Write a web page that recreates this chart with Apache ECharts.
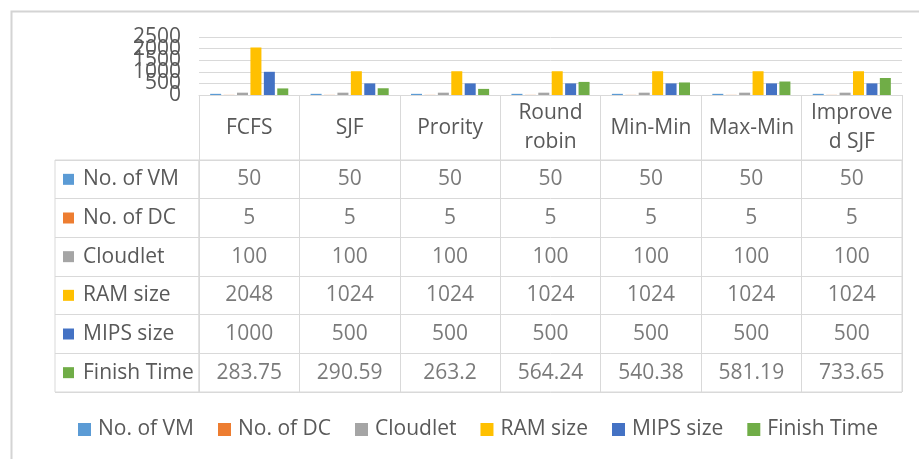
<!DOCTYPE html>
<html>
<head>
<meta charset="utf-8">
<script src="https://cdn.jsdelivr.net/npm/echarts@6/dist/echarts.min.js"></script>
<style>
  html, body { margin: 0; padding: 0; background: #fff; }
  #main { width: 919px; height: 459px; }
</style>
</head>
<body>
<div id="main"></div>
<script>
// 调度算法比较（柱状图 + 数据表）
var categories = ['FCFS', 'SJF', 'Prority', 'Round robin', 'Min-Min', 'Max-Min', 'Improved SJF'];
var headerText = { 'Round robin': 'Round\nrobin', 'Improved SJF': 'Improve\nd SJF' };

var seriesNames = ['No. of VM', 'No. of DC', 'Cloudlet', 'RAM size', 'MIPS size', 'Finish Time'];
var vmCount    = [50, 50, 50, 50, 50, 50, 50];
var dcCount    = [5, 5, 5, 5, 5, 5, 5];
var cloudlet   = [100, 100, 100, 100, 100, 100, 100];
var ramSize    = [2048, 1024, 1024, 1024, 1024, 1024, 1024];
var mipsSize   = [1000, 500, 500, 500, 500, 500, 500];
var finishTime = [283.75, 290.59, 263.2, 564.24, 540.38, 581.19, 733.65];
var yTickLabels = ['0', '500', '1000', '1500', '2000', '2500'];
var yTicks = { min: 0, max: 2500, interval: 500 };

var colors = ['#5B9BD5', '#ED7D31', '#A5A5A5', '#FFC000', '#4472C4', '#70AD47'];
var allValues = [vmCount, dcCount, cloudlet, ramSize, mipsSize, finishTime];

var FONT = 'Open Sans';
var FS = 21;
var TXT = '#595959';
var LINE = '#d9d9d9';

var myChart = echarts.init(document.getElementById('main'));

// 表格单元格数据
var cells = [];
allValues.forEach(function (arr, r) {
  arr.forEach(function (v, c) { cells.push([c, r, v]); });
});

// 行标题的色块
var rich = { t: { color: TXT, fontSize: FS, fontFamily: FONT, padding: [0, 0, 0, 9] } };
colors.forEach(function (col, i) {
  rich['s' + i] = { width: 11, height: 11, backgroundColor: col };
});

var series = seriesNames.map(function (name, i) {
  return {
    name: name,
    type: 'bar',
    xAxisIndex: 0,
    yAxisIndex: 0,
    barWidth: 11,
    barGap: '22%',
    itemStyle: { color: colors[i] },
    data: allValues[i]
  };
});
series.push({
  name: 'table',
  type: 'scatter',
  xAxisIndex: 2,
  yAxisIndex: 2,
  symbolSize: 1,
  itemStyle: { color: 'rgba(0,0,0,0)' },
  label: {
    show: true,
    position: 'inside',
    color: TXT,
    fontSize: FS,
    fontFamily: FONT,
    formatter: function (p) { return String(p.value[2]); }
  },
  silent: true,
  data: cells
});

var option = {
  animation: false,
  textStyle: { fontFamily: FONT },
  graphic: [{
    type: 'rect',
    left: 9, top: 9,
    shape: { width: 930, height: 470 },
    style: { fill: 'none', stroke: '#d4d4d4', lineWidth: 2 },
    silent: true
  }],
  legend: {
    data: seriesNames,
    left: 78,
    top: 419,
    padding: 0,
    icon: 'rect',
    itemWidth: 13,
    itemHeight: 13,
    itemGap: 24,
    textStyle: { color: TXT, fontSize: FS, fontFamily: FONT, padding: [0, 0, 0, 2] }
  },
  grid: [
    { left: 199, right: 17, top: 37, height: 58 },
    { left: 55, width: 144, top: 160, height: 232, show: true, borderColor: LINE, borderWidth: 1 },
    { left: 199, right: 17, top: 160, height: 232, show: true, borderColor: LINE, borderWidth: 1 }
  ],
  xAxis: [
    {
      gridIndex: 0,
      type: 'category',
      data: categories,
      axisLine: { lineStyle: { color: LINE } },
      axisTick: { show: true, length: 65, lineStyle: { color: LINE } },
      axisLabel: {
        interval: 0,
        color: TXT,
        fontSize: FS,
        fontFamily: FONT,
        lineHeight: 29,
        verticalAlign: 'middle',
        margin: 33,
        formatter: function (v) { return headerText[v] || v; }
      }
    },
    {
      gridIndex: 1,
      type: 'category',
      data: [''],
      axisLine: { show: false },
      axisTick: { show: false },
      axisLabel: { show: false }
    },
    {
      gridIndex: 2,
      type: 'category',
      data: categories,
      axisLine: { show: false },
      axisTick: { show: false },
      axisLabel: { show: false },
      splitLine: { show: true, lineStyle: { color: LINE } }
    }
  ],
  yAxis: [
    {
      gridIndex: 0,
      type: 'value',
      min: yTicks.min,
      max: yTicks.max,
      interval: yTicks.interval,
      axisLine: { show: false },
      axisTick: { show: false },
      axisLabel: { show: false },
      splitLine: { lineStyle: { color: LINE } }
    },
    {
      gridIndex: 1,
      type: 'category',
      inverse: true,
      data: seriesNames,
      axisLine: { show: false },
      axisTick: { show: false },
      splitLine: { show: true, lineStyle: { color: LINE } },
      axisLabel: {
        inside: true,
        margin: 8,
        formatter: function (v, i) { return '{s' + i + '|}{t|' + v + '}'; },
        rich: rich
      }
    },
    {
      gridIndex: 2,
      type: 'category',
      inverse: true,
      data: seriesNames,
      axisLine: { show: false },
      axisTick: { show: false },
      axisLabel: { show: false },
      splitLine: { show: true, lineStyle: { color: LINE } }
    },
    {
      // 刻度标签（允许重叠显示）
      gridIndex: 0,
      type: 'category',
      position: 'left',
      boundaryGap: false,
      data: yTickLabels,
      axisLine: { show: false },
      axisTick: { show: false },
      splitLine: { show: false },
      axisLabel: {
        interval: 0,
        hideOverlap: false,
        margin: 18,
        color: TXT,
        fontSize: FS,
        fontFamily: FONT
      }
    }
  ],
  series: series
};

myChart.setOption(option);
</script>
</body>
</html>
